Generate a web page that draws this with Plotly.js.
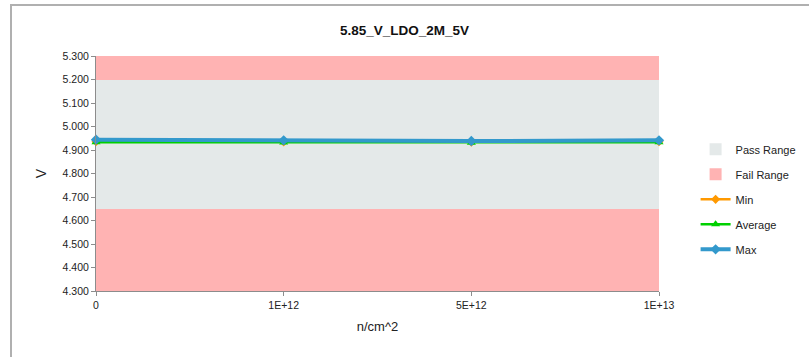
<!DOCTYPE html>
<html>
<head>
<meta charset="utf-8">
<script src="https://cdn.plot.ly/plotly-3.0.1.min.js"></script>
<style>
  html, body { margin: 0; padding: 0; background: #fff; }
  #wrap { position: relative; width: 809px; height: 357px; overflow: hidden; }
  #chart { position: absolute; left: 0; top: 0; width: 809px; height: 357px; }
  #frame { position: absolute; left: 10px; top: 4px; width: 820px; height: 400px;
           border-left: 2px solid #b0b0b0; border-top: 2px solid #b0b0b0; pointer-events: none; }
</style>
</head>
<body>
<div id="wrap">
  <div id="chart"></div>
  <div id="frame"></div>
</div>
<script>
// ---- data ----
const categories = ["0", "1E+12", "5E+12", "1E+13"];
const minValues  = [4.935, 4.934, 4.933, 4.935];
const avgValues  = [4.933, 4.932, 4.931, 4.933];
const maxValues  = [4.944, 4.941, 4.938, 4.941];
const axisMin = 4.3;
const axisMax = 5.3;
const passLow = 4.65;
const passHigh = 5.2;
const yTickValues = [4.3, 4.4, 4.5, 4.6, 4.7, 4.8, 4.9, 5.0, 5.1, 5.2, 5.3];

const font = "Liberation Sans, Arial, sans-serif";
const rep = v => categories.map(() => v);

const traces = [
  { type: "bar", name: "Pass Range", x: categories, y: rep(passHigh - passLow), base: rep(passLow),
    width: 1, marker: { color: "#E4E9E9", line: { width: 0 } }, legendgroup: "pass", hoverinfo: "skip" },
  { type: "bar", name: "Fail Range", x: categories, y: rep(passLow - axisMin), base: rep(axisMin),
    width: 1, marker: { color: "#FFB3B3", line: { width: 0 } }, legendgroup: "fail", hoverinfo: "skip" },
  { type: "bar", name: "Fail Range", x: categories, y: rep(axisMax - passHigh), base: rep(passHigh),
    width: 1, marker: { color: "#FFB3B3", line: { width: 0 } }, legendgroup: "fail", showlegend: false, hoverinfo: "skip" },
  { type: "scatter", mode: "lines+markers", name: "Min", x: categories, y: minValues, legendgroup: "min",
    line: { color: "#FF9900", width: 2.5 }, marker: { symbol: "diamond", size: 7, color: "#FF9900" }, cliponaxis: false },
  { type: "scatter", mode: "lines+markers", name: "Average", x: categories, y: avgValues, legendgroup: "avg",
    line: { color: "#00D000", width: 2.5 }, marker: { symbol: "triangle-up", size: 8, color: "#00D000" }, cliponaxis: false },
  { type: "scatter", mode: "lines+markers", name: "Max", x: categories, y: maxValues, legendgroup: "max",
    line: { color: "#3399CC", width: 4 }, marker: { symbol: "diamond", size: 8, color: "#3399CC" }, cliponaxis: false }
];

const layout = {
  width: 809, height: 357,
  margin: { l: 96, r: 150, t: 56, b: 66, pad: 0, autoexpand: false },
  paper_bgcolor: "rgba(0,0,0,0)", plot_bgcolor: "#ffffff",
  barmode: "overlay", bargap: 0,
  font: { family: font, size: 11, color: "#333" },
  title: { text: "<b>5.85_V_LDO_2M_5V</b>", x: 0.5, xref: "container", y: 0.915, yanchor: "middle",
           font: { family: font, size: 13.5, color: "#111" } },
  xaxis: {
    type: "category", range: [0, 3], fixedrange: true,
    showgrid: false, zeroline: false,
    showline: true, linecolor: "#8c8c8c", linewidth: 1,
    ticks: "outside", ticklen: 4, tickcolor: "#8c8c8c",
    tickfont: { family: font, size: 10.5, color: "#222" },
    title: { text: "n/cm^2", font: { family: font, size: 13, color: "#222" }, standoff: 12 }
  },
  yaxis: {
    range: [axisMin, axisMax], fixedrange: true,
    tickvals: yTickValues, tickformat: ".3f",
    showgrid: false, zeroline: false,
    showline: true, linecolor: "#8c8c8c", linewidth: 1,
    ticks: "outside", ticklen: 4, tickcolor: "#8c8c8c",
    tickfont: { family: font, size: 10.5, color: "#222" },
    title: { text: "V", font: { family: font, size: 14, color: "#222" }, standoff: 12 }
  },
  showlegend: true,
  legend: {
    x: 1.065, xanchor: "left", y: 0.39, yanchor: "middle",
    traceorder: "grouped", tracegroupgap: 6,
    font: { family: font, size: 11, color: "#222" },
    bgcolor: "rgba(0,0,0,0)"
  }
};

Plotly.newPlot("chart", traces, layout, { displayModeBar: false, staticPlot: true });
</script>
</body>
</html>
